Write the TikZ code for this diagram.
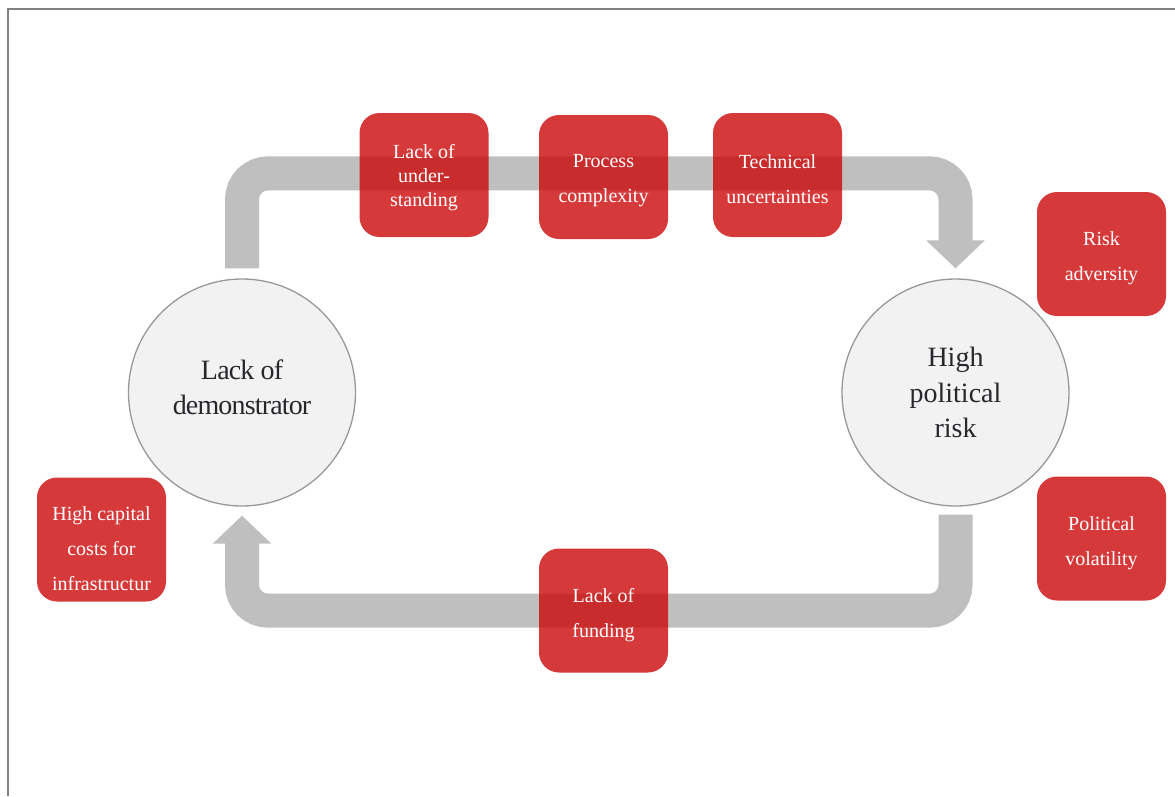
\documentclass[tikz,border=0pt]{standalone}
\usepackage{fontspec}
\setmainfont{Liberation Serif}
\usetikzlibrary{arrows.meta}
\definecolor{bandgray}{RGB}{191,191,191}
\definecolor{boxred}{RGB}{204,8,8}
\definecolor{circfill}{RGB}{242,242,242}
\definecolor{circline}{RGB}{150,152,154}
\definecolor{inkdark}{RGB}{38,40,44}
\definecolor{framegray}{RGB}{128,128,128}
\begin{document}
\begin{tikzpicture}[x=1pt,y=-1pt,
  band/.style={draw=bandgray, line width=34pt, rounded corners=26pt,
    -{Triangle[length=28pt,width=57pt]}},
  hub/.style={circle, minimum size=227pt, inner sep=0pt, fill=circfill,
    draw=circline, line width=1.3pt},
  hubtext/.style={inner sep=0pt, text=inkdark, align=center,
    font=\fontsize{28}{35.5}\selectfont},
  issue/.style={rectangle, rounded corners=20pt, minimum width=129pt,
    minimum height=124pt, inner sep=0pt, fill=boxred, fill opacity=0.8},
  issuetext/.style={inner sep=0pt, text=white, align=center,
    font=\fontsize{20}{35}\selectfont}]
\useasboundingbox (0,0) rectangle (1175,796);

% frame
\coordinate (fb) at (8,796);
\coordinate (fc) at (8,9);
\coordinate (fr) at (1175,9);
\draw[framegray, line width=2pt] (fb) -- (fc) -- (fr);

% the two states of the cycle
\node[hub] (dem) at (242,392.5) {};
\node[hubtext, font=\fontsize{28}{35}\selectfont\addfontfeature{LetterSpace=-3}]
  (dem-t) at ([yshift=5pt]dem.center) {Lack of\\demonstrator};
\node[hub] (risk) at (955.5,392.5) {};
\node[hubtext] (risk-t) at (risk.center) {High\\political\\risk};

% cycle arrows
\draw[band] ([yshift=10pt]dem.north) |- ([yshift=105pt]risk.north) -- ([yshift=10pt]risk.north);
\draw[band] ([yshift=-8pt]risk.south) |- ([yshift=-104pt]dem.south) -- ([yshift=-9pt]dem.south);

% barriers
\node[issue] (und) at (424,175) {};
\node[issuetext, font=\fontsize{20}{24}\selectfont] (und-t) at ([yshift=-3pt]und.center) {Lack of\\under-\\standing};
\node[issue] (proc) at (603.5,177) {};
\node[issuetext] (proc-t) at ([yshift=-4pt]proc.center) {Process\\complexity};
\node[issue] (tech) at (777.5,175) {};
\node[issuetext] (tech-t) at ([yshift=-4pt]tech.center) {Technical\\uncertainties};
\node[issue] (adv) at (1101.5,254) {};
\node[issuetext] (adv-t) at ([yshift=-4pt]adv.center) {Risk\\adversity};
\node[issue] (vol) at (1101.5,538.5) {};
\node[issuetext] (vol-t) at ([yshift=-5pt]vol.center) {Political\\volatility};
\node[issue] (cap) at (101.5,539.5) {};
\node[issuetext] (cap-t) at ([yshift=-9pt]cap.center) {High capital\\costs for\\infrastructur};
\node[issue] (fund) at (603.5,610.5) {};
\node[issuetext] (fund-t) at ([yshift=-5pt]fund.center) {Lack of\\funding};
\end{tikzpicture}
\end{document}
